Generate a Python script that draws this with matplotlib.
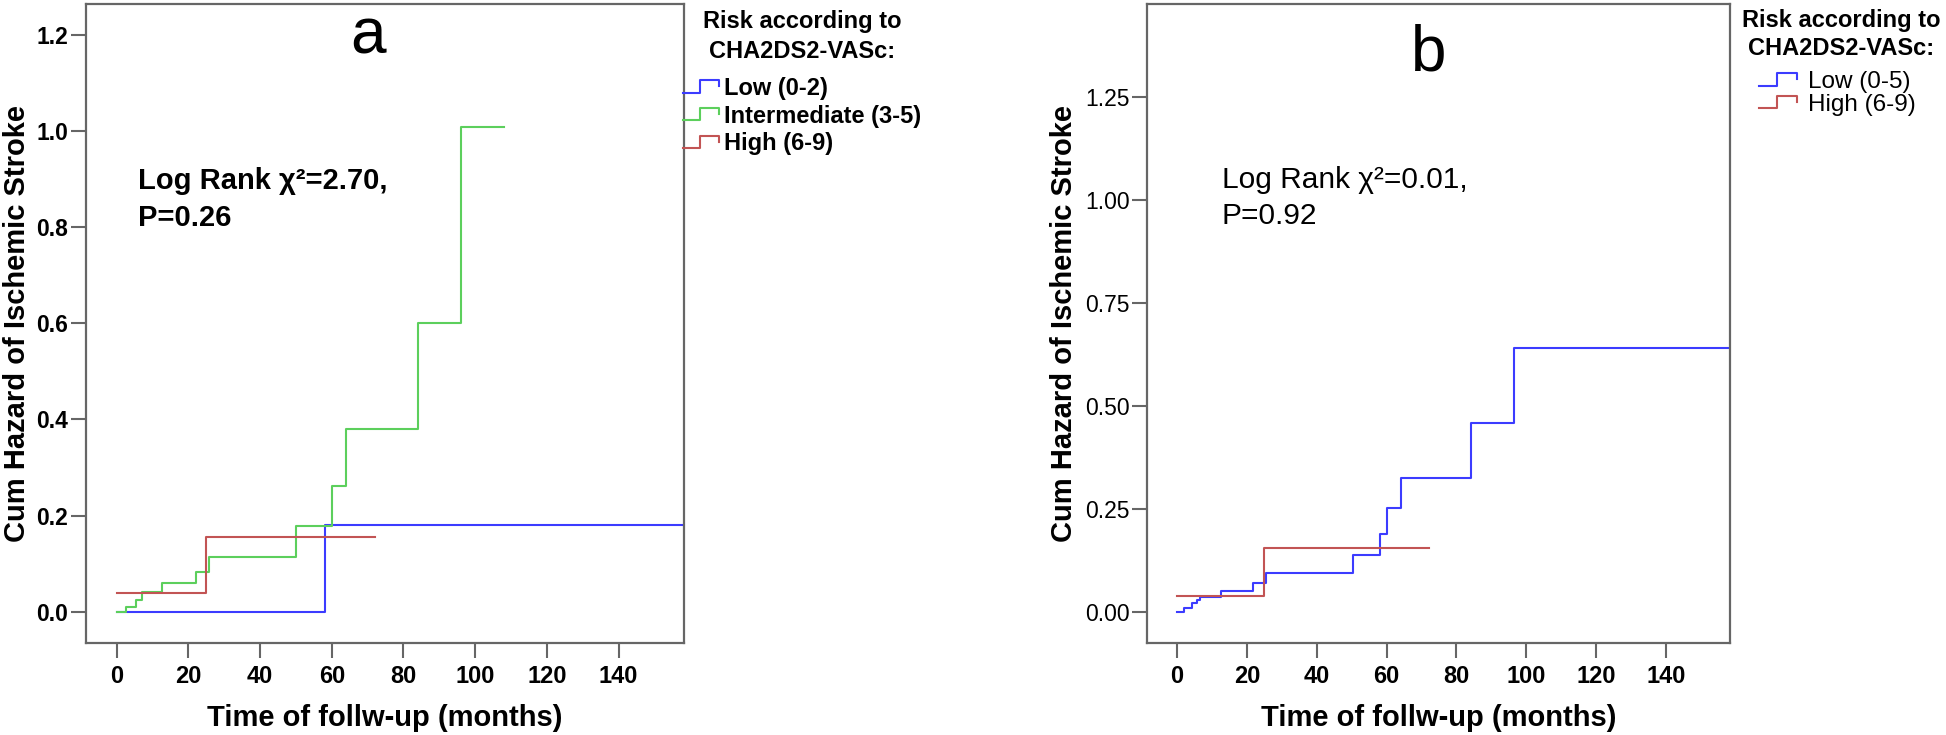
import matplotlib
matplotlib.use("Agg")
import matplotlib.pyplot as plt
from matplotlib.lines import Line2D
from matplotlib.legend_handler import HandlerBase

# panel a: cumulative hazard by CHA2DS2-VASc risk group (3 groups)
a_low_t = [0, 58, 160]
a_low_h = [0.0, 0.181, 0.181]
a_mid_t = [0, 2.6, 5.5, 7, 12.6, 22, 25.7, 50, 60, 64, 84, 96, 108]
a_mid_h = [0.0, 0.010, 0.025, 0.040, 0.060, 0.083, 0.113, 0.178, 0.262, 0.380, 0.600, 1.008, 1.008]
a_high_t = [0, 25, 72]
a_high_h = [0.038, 0.155, 0.155]
a_labels = ["Low (0-2)", "Intermediate (3-5)", "High (6-9)"]

# panel b: two groups
b_low_t = [0, 2, 4.3, 5.7, 6.7, 12.6, 21.7, 25.5, 50.3, 58.2, 60.2, 64, 84.2, 96.4, 160]
b_low_h = [0.0, 0.008, 0.020, 0.028, 0.036, 0.051, 0.069, 0.093, 0.138, 0.189, 0.251, 0.326, 0.459, 0.641, 0.641]
b_high_t = [0, 25, 72]
b_high_h = [0.038, 0.155, 0.155]
b_labels = ["Low (0-5)", "High (6-9)"]

a_stat = "Log Rank \u03c7\u00b2=2.70,\nP=0.26"
b_stat = "Log Rank \u03c7\u00b2=0.01,\nP=0.92"
leg_title = "Risk according to\nCHA2DS2-VASc:"

BLUE = "#3c3cff"
GREEN = "#5ccf5c"
RED = "#c25454"
SPINE = "#666666"

plt.rcParams["font.family"] = ["Liberation Sans", "DejaVu Sans"]


class StepHandler(HandlerBase):
    # little step-shaped legend key, like SPSS draws it
    def create_artists(self, legend, orig_handle, xdescent, ydescent,
                       width, height, fontsize, trans):
        x0 = -xdescent
        y0 = -ydescent
        lo = y0 + 0.05 * height
        hi = y0 + 0.95 * height
        mid = y0 + 0.5 * height
        xs = [x0, x0 + 0.45 * width, x0 + 0.45 * width, x0 + 0.97 * width, x0 + 0.97 * width]
        ys = [lo, lo, hi, hi, mid]
        ln = Line2D(xs, ys, color=orig_handle.get_color(), lw=1.5, transform=trans)
        return [ln]


def style_axes(ax, ylim, yticks, yfmt, ytick_bold):
    ax.set_xlim(-8.65, 158.3)
    ax.set_ylim(*ylim)
    ax.set_xticks(range(0, 141, 20))
    ax.set_yticks(yticks)
    ax.set_yticklabels([yfmt % v for v in yticks])
    for sp in ax.spines.values():
        sp.set_color(SPINE)
        sp.set_linewidth(1.6)
    ax.tick_params(axis="both", direction="out", length=10.5, width=1.5, color=SPINE)
    ax.tick_params(axis="x", pad=5, labelsize=17)
    ax.tick_params(axis="y", pad=2, labelsize=16.5)
    for lab in ax.get_xticklabels():
        lab.set_fontweight("bold")
    for lab in ax.get_yticklabels():
        lab.set_fontweight("bold" if ytick_bold else "normal")
    ax.set_xlabel("Time of follw-up (months)", fontsize=21, fontweight="bold")
    ax.set_ylabel("Cum Hazard of Ischemic Stroke", fontsize=21, fontweight="bold")


fig = plt.figure(figsize=(19.46, 7.35), dpi=100)
ax1 = fig.add_axes([0.04404, 0.1248, 0.3075, 0.8698])
ax2 = fig.add_axes([0.5893, 0.1248, 0.2997, 0.8698])

# ---- panel a
h1, = ax1.step(a_low_t, a_low_h, where="post", color=BLUE, lw=1.5)
h2, = ax1.step(a_mid_t, a_mid_h, where="post", color=GREEN, lw=1.5)
h3, = ax1.step(a_high_t, a_high_h, where="post", color=RED, lw=1.5)
style_axes(ax1, (-0.0658, 1.2645), [0, 0.2, 0.4, 0.6, 0.8, 1.0, 1.2], "%.1f", True)
ax1.yaxis.set_label_coords(-0.092, 0.5)
ax1.xaxis.set_label_coords(0.5, -0.095)
ax1.text(0.472, 0.922, "a", transform=ax1.transAxes, fontsize=46, ha="center", va="baseline")
# multi-line text: baseline refers to the last line
ax1.text(0.088, 0.6527, a_stat, transform=ax1.transAxes, fontsize=21, fontweight="bold",
         ha="left", va="baseline", linespacing=1.4)
ax1.text(1.197, 0.9155, leg_title, transform=ax1.transAxes, fontsize=17, fontweight="bold",
         ha="center", va="baseline", linespacing=1.4, multialignment="center")
ax1.legend([h1, h2, h3], a_labels, handler_map={Line2D: StepHandler()},
           loc="upper center", bbox_to_anchor=(1.197, 0.886), frameon=False,
           borderpad=0, borderaxespad=0, handlelength=1.6, handleheight=0.5,
           handletextpad=0.15, labelspacing=0.2,
           prop={"size": 17, "weight": "bold"})

# ---- panel b
g1, = ax2.step(b_low_t, b_low_h, where="post", color=BLUE, lw=1.5)
g2, = ax2.step(b_high_t, b_high_h, where="post", color=RED, lw=1.5)
style_axes(ax2, (-0.0768, 1.477), [0, 0.25, 0.5, 0.75, 1.0, 1.25], "%.2f", False)
ax2.yaxis.set_label_coords(-0.118, 0.5)
ax2.xaxis.set_label_coords(0.5, -0.095)
ax2.text(0.484, 0.896, "b", transform=ax2.transAxes, fontsize=46, ha="center", va="baseline")
ax2.text(0.1286, 0.656, b_stat, transform=ax2.transAxes, fontsize=21.5,
         ha="left", va="baseline", linespacing=1.35)
ax2.text(1.1912, 0.9203, leg_title, transform=ax2.transAxes, fontsize=17, fontweight="bold",
         ha="center", va="baseline", linespacing=1.3, multialignment="center")
ax2.legend([g1, g2], b_labels, handler_map={Line2D: StepHandler()},
           loc="upper center", bbox_to_anchor=(1.1843, 0.895), frameon=False,
           borderpad=0, borderaxespad=0, handlelength=1.6, handleheight=0.5,
           handletextpad=0.4, labelspacing=0.02,
           prop={"size": 17.5})

fig.savefig("out.png", dpi=100)
